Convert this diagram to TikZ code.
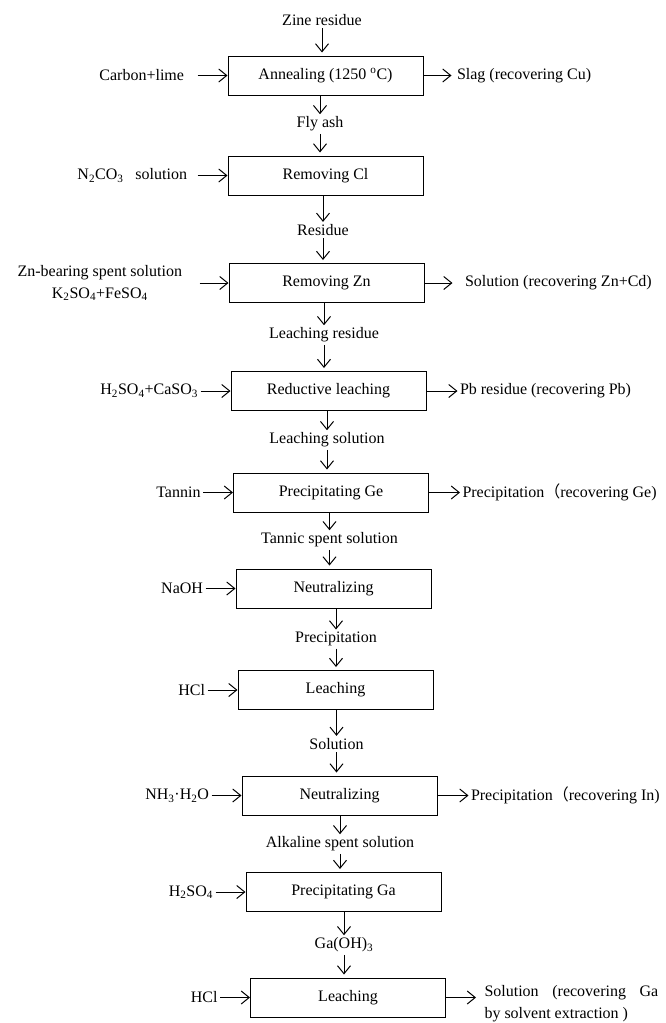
\documentclass[tikz,border=0pt]{standalone}
\usepackage{fontspec}
\setmainfont{Liberation Serif}
\newfontfamily\cjk{Noto Sans CJK SC}
\usetikzlibrary{positioning,arrows.meta}

\begin{document}
\begin{tikzpicture}[x=1pt,y=-1pt,>={Straight Barb[length=8pt,width=13pt]},line width=1pt,
        font=\fontsize{16}{22}\selectfont,node distance=30pt,
        every node/.style={inner sep=2pt},
        proc/.style={draw, rectangle, minimum width=195pt, minimum height=39pt, inner sep=0pt},
        down/.style={->, shorten >=3pt}]
        \useasboundingbox (0,0) rectangle (666,1023);

        \node (zine) at (322,20) {Zine residue};
        \node (ann) [proc] at (325.5,75.5) {Annealing (1250 \textsuperscript{o}C)};
        \node (fly) at (320,124) {Fly ash};
        \node (clrm) [proc] at (325.5,175.5) {Removing Cl};
        \node (res) at (323,230) {Residue};
        \node (zn) [proc] at (326.5,283) {Removing Zn};
        \node (lres) at (324,335) {Leaching residue};
        \node (red) [proc] at (328.5,391) {Reductive leaching};
        \node (lsol) at (327,440) {Leaching solution};
        \node (ge) [proc] at (331,492.5) {Precipitating Ge};
        \node (tan) at (329.5,540) {Tannic spent solution};
        \node (neu1) [proc] at (333.5,588.5) {Neutralizing};
        \node (prec) at (336,639) {Precipitation};
        \node (lea1) [proc] at (335.5,690) {Leaching};
        \node (sol) at (336.5,744) {Solution};
        \node (neu2) [proc] at (339.5,795.5) {Neutralizing};
        \node (alk) at (340,844) {Alkaline spent solution};
        \node (ga) [proc] at (343.5,892) {Precipitating Ga};
        \node (gaoh) at (344,945) {Ga(OH)\textsubscript{3}};
        \node (lea2) [proc] at (348,997.5) {Leaching};

        \draw[down] (zine) -- (ann.north -| zine);
        \draw[->] (ann.south -| fly) -- (fly);
        \draw[down] (fly) -- (clrm.north -| fly);
        \draw[->] (clrm.south -| res) -- (res);
        \draw[down] (res) -- (zn.north -| res);
        \draw[->] (zn.south -| lres) -- (lres);
        \draw[down] (lres) -- (red.north -| lres);
        \draw[->] (red.south -| lsol) -- (lsol);
        \draw[down] (lsol) -- (ge.north -| lsol);
        \draw[->] (ge.south -| tan) -- (tan);
        \draw[down] (tan) -- (neu1.north -| tan);
        \draw[->] (neu1.south -| prec) -- (prec);
        \draw[down] (prec) -- (lea1.north -| prec);
        \draw[->] (lea1.south -| sol) -- (sol);
        \draw[down] (sol) -- (neu2.north -| sol);
        \draw[->] (neu2.south -| alk) -- (alk);
        \draw[down] (alk) -- (ga.north -| alk);
        \draw[->] (ga.south -| gaoh) -- (gaoh);
        \draw[down] (gaoh) -- (lea2.north -| gaoh);

        \node (carb) [left=41pt of ann] {Carbon+lime};
        \node (naco) [left=38pt of clrm] {N\textsubscript{2}CO\textsubscript{3}\hspace{0.75em}solution};
        \node (znin) [left=44pt of zn, align=center] {Zn-bearing spent solution\\K\textsubscript{2}SO\textsubscript{4}+FeSO\textsubscript{4}};
        \node (h2ca) [left=of red] {H\textsubscript{2}SO\textsubscript{4}+CaSO\textsubscript{3}};
        \node (tann) [left=of ge] {Tannin};
        \node (naoh) [left=of neu1] {NaOH};
        \node (hcla) [left=of lea1] {HCl};
        \node (nh3) [left=of neu2] {NH\textsubscript{3}·H\textsubscript{2}O};
        \node (h2so) [left=of ga] {H\textsubscript{2}SO\textsubscript{4}};
        \node (hclb) [left=of lea2] {HCl};

        \draw[->, shorten <=11pt] (carb) -- (ann);
        \draw[->, shorten <=8pt] (naco) -- (clrm);
        \draw[->, shorten <=15pt] (znin) -- (zn);
        \draw[->] (h2ca) -- (red);
        \draw[->] (tann) -- (ge);
        \draw[->] (naoh) -- (neu1);
        \draw[->] (hcla) -- (lea1);
        \draw[->] (nh3) -- (neu2);
        \draw[->] (h2so) -- (ga);
        \draw[->] (hclb) -- (lea2);

        \node (slag) [right=31pt of ann] {Slag (recovering Cu)};
        \node (zncd) [right=38pt of zn] {Solution (recovering Zn+Cd)};
        \node (pbres) [right=31pt of red] {Pb residue (recovering Pb)};
        \node (gepre) [right=31pt of ge] {Precipitation{\cjk （}recovering Ge)};
        \node (inpre) [right=31pt of neu2] {Precipitation{\cjk （}recovering In)};
        \node (gasol) [right=36pt of lea2, yshift=-6pt, align=left] {Solution\hspace{0.85em}(recovering\hspace{0.85em}Ga\\by solvent extraction )};

        \draw[->, shorten >=3pt] (ann) -- (slag);
        \draw[->, shorten >=10pt] (zn) -- (zncd);
        \draw[->] (red) -- (pbres);
        \draw[->] (ge) -- (gepre);
        \draw[->] (neu2) -- (inpre);
        \draw[->, shorten >=6pt] (lea2.east) -- (lea2.east -| gasol.west);
\end{tikzpicture}
\end{document}
